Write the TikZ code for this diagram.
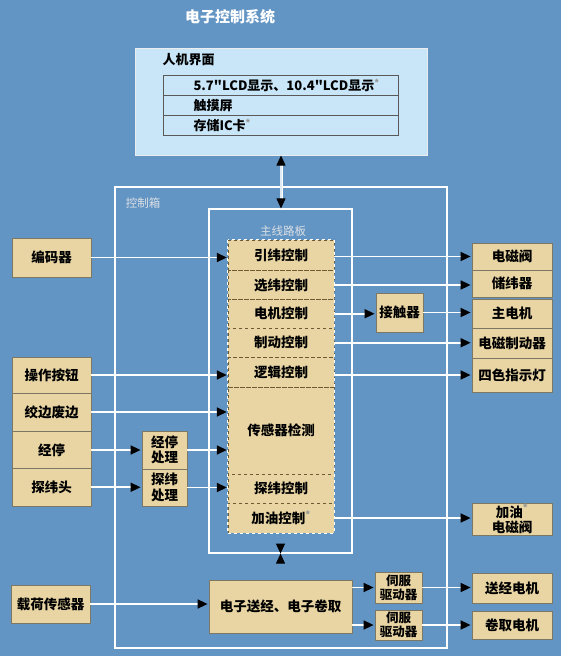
\documentclass[tikz,border=0pt]{standalone}
\usepackage{fontspec}
\setmainfont{Noto Sans CJK SC}[Ligatures=TeXOff]
\usetikzlibrary{arrows.meta}
\definecolor{bgblue}{RGB}{98,148,196}
\definecolor{boxtan}{RGB}{232,213,163}
\definecolor{boxedge}{RGB}{125,120,100}
\definecolor{rowedge}{RGB}{110,90,50}
\definecolor{hmiblue}{RGB}{200,230,248}
\definecolor{labelgray}{RGB}{220,224,228}
\definecolor{stargray}{RGB}{150,150,150}
\newcommand{\optmark}{\textsuperscript{\textcolor{stargray}{*}}}
\begin{document}
\begin{tikzpicture}[x=1pt,y=-1pt,
    tanbox/.style={draw=boxedge, fill=boxtan, line width=0.8pt, inner sep=0pt, align=center,
      font=\bfseries\fontsize{13.5}{15.5}\selectfont},
    rowbox/.style={draw=rowedge, dashed, fill=boxtan, inner sep=0pt, minimum width=106,
      font=\bfseries\fontsize{13.5}{15.5}\selectfont},
    hmirow/.style={draw=gray!70!black, fill=hmiblue, line width=0.8pt, minimum height=20,
      inner xsep=30pt, inner ysep=0pt, text width=175, align=left,
      font=\bfseries\fontsize{13}{15}\selectfont},
    frame/.style={draw=white, line width=1.2pt, inner sep=0pt},
    conn/.style={draw=white, line width=1.6pt, shorten >=1pt,
      -{Triangle[length=10pt,width=9pt,color=black]}},
    link/.style={draw=white, line width=0.8pt, double=white!80!bgblue, double distance=1.4pt,
      {Triangle[length=10pt,width=9pt,color=black]}-{Triangle[length=10pt,width=9pt,color=black]}},
    caption/.style={text=labelgray, font=\fontsize{11.5}{13}\selectfont}]
  \fill[bgblue] (0,0) rectangle (561,656);
  \useasboundingbox (0,0) rectangle (561,656);

  \node[text=white, font=\bfseries\fontsize{15}{17}\selectfont] (title) at (230,17) {电子控制系统};

  \node[draw=white!85!gray, fill=hmiblue, line width=1pt, minimum width=292, minimum height=107] (hmi) at (281,101.5) {};
  \node[anchor=west, font=\bfseries\fontsize{13}{15}\selectfont] (hmititle) at (159,60) {人机界面};
  \node[hmirow] (lcd) at (281,85.5) {5.7"LCD显示、10.4"LCD显示\optmark};
  \node[hmirow] (touch) at (281,105.5) {触摸屏};
  \node[hmirow] (card) at (281,125.5) {存储IC卡\optmark};

  \node[frame, minimum width=332, minimum height=461] (ctrlbox) at (281,417.5) {};
  \node[caption] (ctrllabel) at (143,203) {控制箱};
  \node[frame, minimum width=143, minimum height=344] (board) at (280.5,381) {};
  \node[caption] (boardlabel) at (283,231) {主线路板};

  \node[rowbox, minimum height=30.5] (yinwei) at (281,255.25) {引纬控制};
  \node[rowbox, minimum height=29] (xuanwei) at (281,285) {选纬控制};
  \node[rowbox, minimum height=28.5] (dianji) at (281,313.75) {电机控制};
  \node[rowbox, minimum height=29.5] (zhidong) at (281,342.75) {制动控制};
  \node[rowbox, minimum height=30] (luoji) at (281,372.5) {逻辑控制};
  \node[rowbox, minimum height=86.5] (sensor) at (281,430.75) {传感器检测};
  \node[rowbox, minimum height=29] (tanwei) at (281,488.5) {探纬控制};
  \node[rowbox, minimum height=30] (jiayou) at (281,518) {加油控制\optmark};
  \draw[white, dashed, line width=0.8pt] (yinwei.north west) rectangle (jiayou.south east);

  \node[tanbox, minimum width=79, minimum height=39] (encoder) at (51.5,257.5) {编码器};
  \node[tanbox, minimum width=79, minimum height=36] (button) at (51.5,375) {操作按钮};
  \node[tanbox, minimum width=79, minimum height=38] (selvage) at (51.5,412) {绞边废边};
  \node[tanbox, minimum width=79, minimum height=37.5] (warpstop) at (51.5,450) {经停};
  \node[tanbox, minimum width=79, minimum height=37.5] (feeler) at (51.5,487.25) {探纬头};
  \node[tanbox, minimum width=79, minimum height=38] (load) at (50.5,604) {载荷传感器};

  \node[tanbox, minimum width=45, minimum height=38] (wsproc) at (164.5,450) {经停\\处理};
  \node[tanbox, minimum width=45, minimum height=37] (fdproc) at (164.5,487.5) {探纬\\处理};
  \node[tanbox, minimum width=47, minimum height=39] (contactor) at (399.5,312.5) {接触器};

  \node[tanbox, minimum width=80, minimum height=27] (valve) at (512,256.5) {电磁阀};
  \node[tanbox, minimum width=80, minimum height=27] (storage) at (512,283.5) {储纬器};
  \node[tanbox, minimum width=80, minimum height=29] (mainmotor) at (512,313.5) {主电机};
  \node[tanbox, minimum width=80, minimum height=30] (brake) at (512,343) {电磁制动器};
  \node[tanbox, minimum width=80, minimum height=34] (lamp) at (512,375) {四色指示灯};
  \node[tanbox, minimum width=80, minimum height=32] (oilvalve) at (512,519) {加油\optmark\\电磁阀};

  \node[tanbox, minimum width=143, minimum height=53] (elec) at (280.5,606.5) {电子送经、电子卷取};
  \node[tanbox, minimum width=47, minimum height=31, font=\bfseries\fontsize{12.5}{14}\selectfont] (servoa) at (398.5,587.5) {伺服\\驱动器};
  \node[tanbox, minimum width=47, minimum height=30, font=\bfseries\fontsize{12.5}{14}\selectfont] (servob) at (398.5,625) {伺服\\驱动器};
  \node[tanbox, minimum width=80, minimum height=30] (letoff) at (512,588) {送经电机};
  \node[tanbox, minimum width=80, minimum height=28] (takeup) at (512,625) {卷取电机};

  \draw[conn] (encoder.east) -- (encoder.east -| yinwei.west);
  \draw[conn] (button.east) -- (button.east -| luoji.west);
  \draw[conn] (selvage.east) -- (selvage.east -| sensor.west);
  \draw[conn] (warpstop.east) -- (wsproc.west);
  \draw[conn] (feeler.east) -- (feeler.east -| fdproc.west);
  \draw[conn] (wsproc.east) -- (wsproc.east -| sensor.west);
  \draw[conn] (fdproc.east) -- (fdproc.east -| tanwei.west);
  \draw[conn] (valve.west -| yinwei.east) -- (valve.west);
  \draw[conn] (xuanwei.east) -- (xuanwei.east -| storage.west);
  \draw[conn] (dianji.east) -- (dianji.east -| contactor.west);
  \draw[conn] (contactor.east) -- (contactor.east -| mainmotor.west);
  \draw[conn] (zhidong.east) -- (zhidong.east -| brake.west);
  \draw[conn] (lamp.west -| luoji.east) -- (lamp.west);
  \draw[conn] (jiayou.east) -- (jiayou.east -| oilvalve.west);
  \draw[conn] (load.east) -- (load.east -| elec.west);
  \draw[conn] (servoa.west -| elec.east) -- (servoa.west);
  \draw[conn] (servob.west -| elec.east) -- (servob.west);
  \draw[conn] (servoa.east) -- (servoa.east -| letoff.west);
  \draw[conn] (servob.east) -- (servob.east -| takeup.west);
  \draw[link] (hmi.south) -- (hmi.south |- board.north);
  \draw[link] (board.south) -- (board.south -| elec.north);
\end{tikzpicture}
\end{document}
